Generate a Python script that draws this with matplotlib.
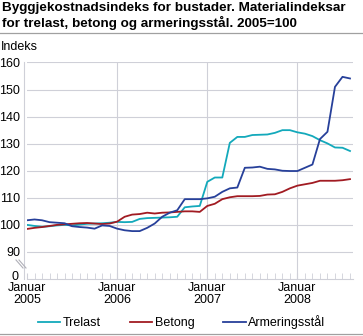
import matplotlib
matplotlib.use('Agg')
import matplotlib.pyplot as plt
from matplotlib.lines import Line2D
from matplotlib.transforms import offset_copy
import numpy as np

plt.rcParams['font.family'] = ['Liberation Sans', 'DejaVu Sans']

# monthly index values, January 2005 - August 2008
trelast = [100.0, 99.6, 99.3, 99.5, 99.8, 100.0, 99.8, 100.1, 100.4, 100.5, 100.6, 100.8,
           101.1, 101.0, 101.1, 102.2, 102.5, 102.6, 102.7, 102.8, 103.0, 106.5, 106.8, 107.0,
           115.9, 117.5, 117.5, 130.3, 132.5, 132.5, 133.2, 133.3, 133.4, 134.0, 135.0, 135.0,
           134.2, 133.7, 132.8, 131.3, 130.1, 128.6, 128.5, 127.3]
betong = [98.5, 98.9, 99.2, 99.6, 100.0, 100.2, 100.4, 100.6, 100.7, 100.5, 100.3, 100.5,
          101.2, 103.0, 103.8, 104.0, 104.5, 104.2, 104.5, 104.6, 104.8, 105.0, 105.0, 104.8,
          107.0, 107.8, 109.5, 110.2, 110.6, 110.6, 110.6, 110.7, 111.2, 111.3, 112.2, 113.5,
          114.5, 115.0, 115.5, 116.3, 116.3, 116.3, 116.5, 116.9]
armering = [101.7, 102.0, 101.7, 101.0, 100.8, 100.6, 99.5, 99.2, 99.0, 98.6, 99.8, 99.6,
            98.6, 98.0, 97.7, 97.7, 98.9, 100.5, 103.0, 104.5, 105.4, 109.5, 109.5, 109.5,
            109.8, 110.4, 112.2, 113.5, 113.8, 121.1, 121.2, 121.5, 120.7, 120.5, 120.0, 119.9,
            119.9, 121.1, 122.3, 131.7, 134.4, 151.0, 154.7, 154.1]
years = ['2005', '2006', '2007', '2008']
y_ticks = [90, 100, 110, 120, 130, 140, 150, 160]

W, H = 363, 336
fig = plt.figure(figsize=(W / 100, H / 100), dpi=100)
ax = fig.add_axes([27 / W, 57 / H, 326 / W, 216.5 / H])

months = np.arange(len(trelast))
ax.plot(months, trelast, color='#13a9bb', lw=1.3, label='Trelast')
ax.plot(months, betong, color='#a11b22', lw=1.3, label='Betong')
ax.plot(months, armering, color='#27409a', lw=1.3, label='Armeringsstål')

ax.set_xlim(0, 43.4)
ax.set_ylim(80, 160)
ax.set_yticks(y_ticks)
ax.set_yticklabels([str(v) for v in y_ticks])
ax.set_xticks([0, 12, 24, 36])
ax.set_xticklabels(['Januar\n' + y for y in years], linespacing=0.95)
ax.set_xticks(months, minor=True)

# bottom of the broken axis is labelled 0
ax.text(0, 80, '0', fontsize=9, ha='right', va='center',
        transform=offset_copy(ax.transData, fig=fig, x=-8, y=2, units='dots'))

grid_c = '#cfd0d8'
for v in y_ticks:
    ax.axhline(v, color=grid_c, lw=0.8, zorder=0)
for v in [12, 24, 36]:
    ax.axvline(v, color=grid_c, lw=0.8, zorder=0)

for s in ['top', 'right']:
    ax.spines[s].set_visible(False)
ax.spines['left'].set_color(grid_c)
ax.spines['bottom'].set_color(grid_c)
ax.spines['left'].set_position(('outward', 2))
ax.tick_params(axis='y', length=0, pad=3, labelsize=9)
ax.tick_params(axis='x', which='both', direction='in', length=4, color=grid_c,
               labelsize=9, pad=2.5)

# axis break marks
for dx in [0, 3]:
    fig.add_artist(Line2D([(16 + dx) / W, (23 + dx) / W], [1 - 260 / H, 1 - 268 / H],
                          color='#b0b0b8', lw=0.8))

fig.text(2 / W, 1 - 2 / H,
         'Byggjekostnadsindeks for bustader. Materialindeksar\nfor trelast, betong og armeringsstål. 2005=100',
         fontsize=9.7, fontweight='bold', va='top', ha='left', linespacing=1.15)
fig.add_artist(Line2D([0, 1], [1 - 33 / H, 1 - 33 / H], color='#a0a0a0', lw=0.9))
fig.add_artist(Line2D([0, 1], [1 - 334 / H, 1 - 334 / H], color='#a0a0a0', lw=0.9))
fig.text(1 / W, 1 - 47 / H, 'Indeks', fontsize=9, va='center', ha='left')

fig.legend(loc='center', bbox_to_anchor=(0.5, 1 - 322 / H), ncol=3, frameon=False,
           fontsize=9, handlelength=1.8, handletextpad=0.2, columnspacing=2.3)

fig.savefig('out.png', dpi=100)
